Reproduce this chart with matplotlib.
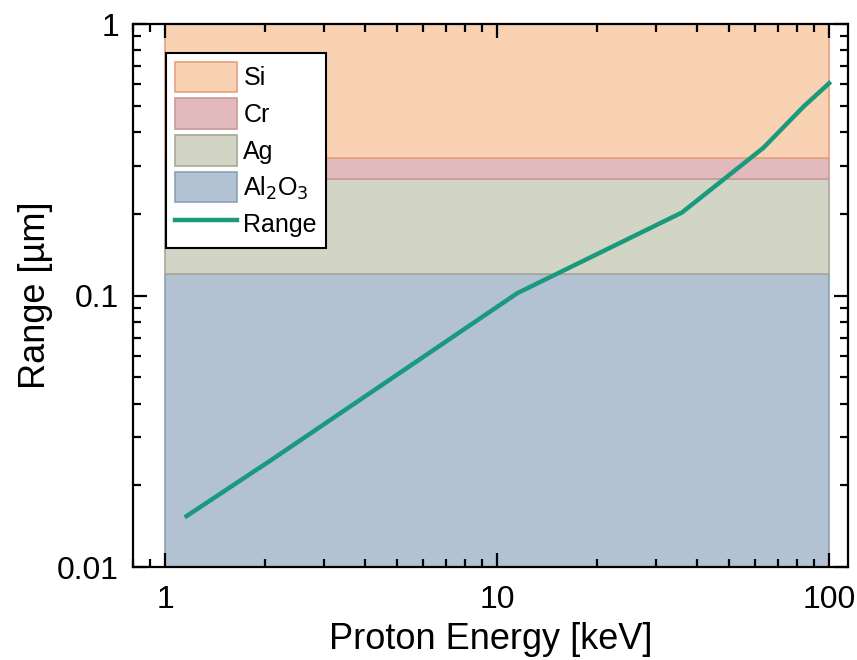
import matplotlib.pyplot as plt
import numpy as np

plt.rcParams['font.family'] = ['Liberation Sans', 'DejaVu Sans']

# layer stack (um), bottom -> top
layer_names = ["Al$_2$O$_3$", "Ag", "Cr", "Si"]
layer_bottom = [0.01, 0.12, 0.269, 0.32]
layer_top = [0.12, 0.269, 0.32, 1.0]
layer_fill = ["#b2c2d3", "#d2d4c6", "#e2babd", "#f9d1b3"]
layer_edge = ["#8aa0b6", "#a6a898", "#c99a98", "#e8a07f"]
layer_x = [1, 100]

# proton range
energy = [1.16, 2.12, 11.5, 36.0, 63.4, 83.7, 100.0]
prange = [0.0154, 0.0251, 0.102, 0.202, 0.350, 0.496, 0.605]

fig = plt.figure(figsize=(8.57, 6.6), dpi=100)
ax = fig.add_axes([0.1552, 0.1409, 0.8343, 0.8227])

handles = {}
for name, lo, hi, fc, ec in zip(layer_names, layer_bottom, layer_top, layer_fill, layer_edge):
    h = ax.fill_between(layer_x, [lo, lo], [hi, hi], facecolor=fc, edgecolor=ec, linewidth=1.2)
    handles[name] = h

line, = ax.plot(energy, prange, color="#1a9a7c", linewidth=3.2)

ax.set_xscale("log")
ax.set_yscale("log")
ax.set_xlim(0.8, 114)
ax.set_ylim(0.01, 1)
ax.set_xticks([1, 10, 100])
ax.set_xticklabels(["1", "10", "100"])
ax.set_yticks([0.01, 0.1, 1])
ax.set_yticklabels(["0.01", "0.1", "1"])

ax.tick_params(which="both", direction="in", top=True, right=True, width=1.6)
ax.tick_params(which="major", length=10, labelsize=23)
ax.tick_params(axis="x", which="major", pad=13)
ax.tick_params(axis="y", which="major", pad=10)
ax.tick_params(which="minor", length=5.5)
for sp in ax.spines.values():
    sp.set_linewidth(1.6)

ax.set_xlabel("Proton Energy [keV]", fontsize=26, labelpad=5)
ax.set_ylabel("Range [\u00b5m]", fontsize=26, labelpad=3)

order = ["Si", "Cr", "Ag", "Al$_2$O$_3$"]
leg = ax.legend([handles[n] for n in order] + [line], order + ["Range"],
                loc="upper left", bbox_to_anchor=(0.046, 0.947), borderaxespad=0,
                fontsize=18, handlelength=2.5, handleheight=1.5, labelspacing=0.25,
                handletextpad=0.25, borderpad=0.35, fancybox=False, framealpha=1)
leg.get_frame().set_edgecolor("black")
leg.get_frame().set_linewidth(1.5)

fig.savefig("out.png", dpi=100)
